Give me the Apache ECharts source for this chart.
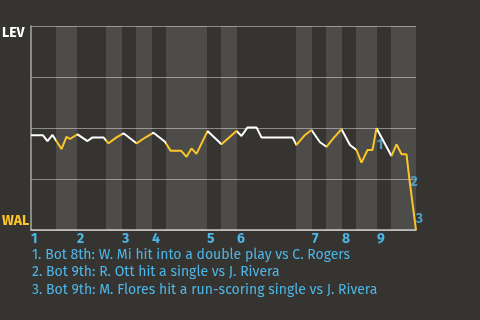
<!DOCTYPE html>
<html>
<head>
<meta charset="utf-8">
<script src="https://cdn.jsdelivr.net/npm/echarts@6/dist/echarts.min.js"></script>
<style>
html,body{margin:0;padding:0;background:#363430;}
#c{width:480px;height:320px;}
</style>
</head>
<body>
<div id="c"></div>
<script>
// game progress (plate appearances) and LEV win probability
const progress = [0, 2.4, 3.3, 4.3, 6.1, 7.1, 7.8, 8.5, 9.3, 11.3, 12.3, 14.5, 15.5, 17.1, 18.5, 21.1, 23.1, 24.5, 26.8, 27.9, 30.0, 31.1, 32.1, 33.1, 35.3, 38.1, 41.1, 42.1, 43.3, 45.1, 46.1, 52.3, 53.1, 54.8, 56.1, 57.8, 59.1, 60.5, 62.1, 63.8, 65.1, 66.1, 67.3, 68.3, 69.1, 72.1, 73.1, 74.1, 75.1, 75.7, 76.3, 77];
const levWinProb = [0.464, 0.464, 0.436, 0.466, 0.397, 0.457, 0.446, 0.457, 0.469, 0.436, 0.454, 0.454, 0.425, 0.454, 0.474, 0.425, 0.457, 0.477, 0.433, 0.389, 0.389, 0.359, 0.400, 0.373, 0.485, 0.420, 0.485, 0.461, 0.503, 0.503, 0.454, 0.454, 0.417, 0.466, 0.490, 0.430, 0.408, 0.450, 0.494, 0.417, 0.392, 0.330, 0.392, 0.392, 0.499, 0.363, 0.420, 0.371, 0.371, 0.245, 0.131, 0];
// start of each inning (top half) and bottom-half spans
const inningLabels = ['1', '2', '3', '4', '5', '6', '7', '8', '9'];
const inningStarts = [0, 9.2, 18.2, 24.2, 35.2, 41.2, 56.2, 62.2, 69.2];
const bottomHalves = [[5, 9.2], [15, 18.2], [21, 24.2], [27, 35.2], [38, 41.2], [53, 56.2], [59, 62.2], [65, 69.2], [72, 77]];
// key plays
const keyPlayX = [69.1, 75.7, 77];
const keyPlayY = [0.499, 0.245, 0];
const keyPlayNotes = [
  '1. Bot 8th: W. Mi hit into a double play vs C. Rogers',
  '2. Bot 9th: R. Ott hit a single vs J. Rivera',
  '3. Bot 9th: M. Flores hit a run-scoring single vs J. Rivera'
];
const teamTop = 'LEV', teamBottom = 'WAL';

const WHITE = '#ffffff', YELLOW = '#fbc52a', BLUE = '#4db6e8';
const FONT = '"Fira Sans", "Open Sans", sans-serif';
const LABEL_OFFSETS = [[3.5, 16.5], [4.5, 2], [3.5, -11]];

const chart = echarts.init(document.getElementById('c'), null, {renderer: 'canvas'});

const pieces = [];
let prev = 0;
bottomHalves.forEach(([a, b]) => {
  if (a > prev) pieces.push({gte: prev, lt: a, color: WHITE});
  pieces.push({gte: a, lt: b, color: YELLOW});
  prev = b;
});
pieces.push({gte: prev, color: YELLOW});

const option = {
  backgroundColor: '#363430',
  animation: false,
  grid: {left: 31, top: 26, right: 64, bottom: 90},
  xAxis: {
    type: 'value', min: 0, max: 77,
    axisLine: {show: true, lineStyle: {color: '#c9c9c7', width: 1.5}},
    axisTick: {show: false},
    splitLine: {show: false},
    axisLabel: {
      customValues: inningStarts,
      formatter: v => inningLabels[inningStarts.indexOf(v)] || '',
      align: 'left', margin: 2,
      color: BLUE, fontSize: 14, fontWeight: 'bold', fontFamily: FONT
    }
  },
  yAxis: {
    type: 'value', min: 0, max: 1, interval: 0.25,
    axisLine: {show: true, lineStyle: {color: '#a9a9a7', width: 1.5}},
    axisTick: {show: false},
    axisLabel: {show: false},
    splitLine: {show: true, lineStyle: {color: '#8c8b89', width: 1}}
  },
  visualMap: {
    show: false, type: 'piecewise', dimension: 0, seriesIndex: 1,
    pieces: pieces
  },
  series: [
    {
      type: 'line', z: 0, data: [], silent: true,
      markArea: {
        silent: true,
        itemStyle: {color: 'rgba(255,255,255,0.12)'},
        data: bottomHalves.map(([a, b]) => [{xAxis: a}, {xAxis: b}])
      }
    },
    {
      type: 'line', z: 3,
      data: progress.map((x, i) => [x, levWinProb[i]]),
      showSymbol: false, symbol: 'none',
      lineStyle: {width: 2},
      silent: true
    },
    {
      type: 'scatter', z: 4, symbolSize: 0, silent: true,
      data: keyPlayX.map((x, i) => ({
        value: [x, keyPlayY[i]],
        label: {offset: LABEL_OFFSETS[i]}
      })),
      label: {
        show: true,
        formatter: p => String(p.dataIndex + 1),
        position: 'inside',
        color: BLUE, fontSize: 14, fontWeight: 'bold', fontFamily: FONT
      }
    }
  ],
  graphic: [
    {type: 'text', left: 2, top: 26, style: {text: teamTop, fill: WHITE, font: 'bold 14px ' + FONT}},
    {type: 'text', left: 2, top: 214, style: {text: teamBottom, fill: YELLOW, font: 'bold 14px ' + FONT}},
    ...keyPlayNotes.map((t, i) => ({
      type: 'text', left: 32, top: 248 + i * 17.5,
      style: {text: t, fill: BLUE, font: '14px ' + FONT}
    }))
  ]
};
chart.setOption(option);
</script>
</body>
</html>
